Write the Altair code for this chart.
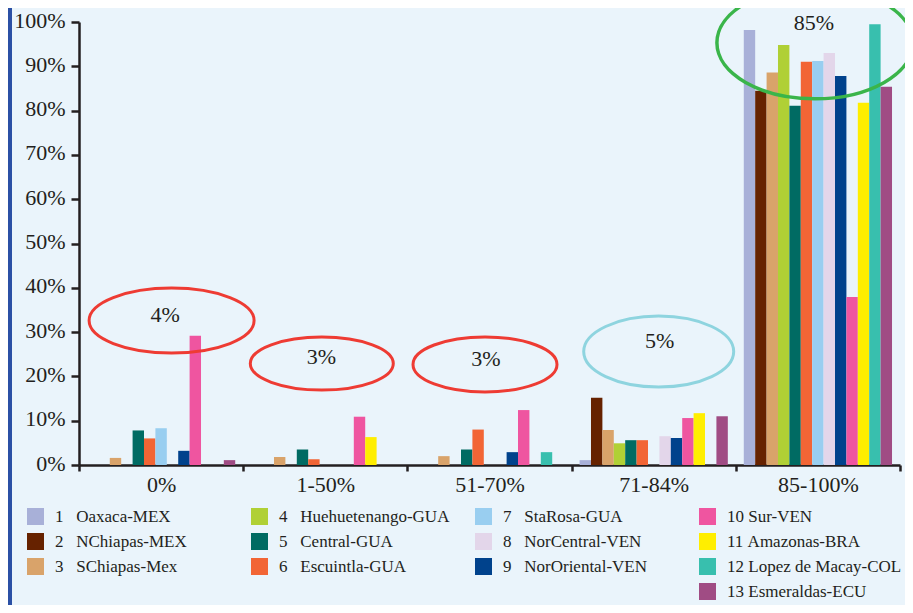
import altair as alt
import pandas as pd

categories = ["0%", "1-50%", "51-70%", "71-84%", "85-100%"]

series_names = ["Oaxaca-MEX", "NChiapas-MEX", "SChiapas-Mex", "Huehuetenango-GUA",
                "Central-GUA", "Escuintla-GUA", "StaRosa-GUA", "NorCentral-VEN",
                "NorOriental-VEN", "Sur-VEN", "Amazonas-BRA", "Lopez de Macay-COL",
                "Esmeraldas-ECU"]
series_colors = ["#A8B0D8", "#662200", "#D9A36A", "#B0D035", "#006B63", "#F26535",
                 "#99CEF0", "#E3D6EA", "#00428C", "#EF55A0", "#FFEE00", "#38BFAE",
                 "#A04C84"]

# values (%) per category, in series order 1..13
vals_0 = [0, 0, 1.6, 0, 7.8, 6.0, 8.3, 0, 3.2, 29.2, 0, 0, 1.1]
vals_1_50 = [0, 0, 1.8, 0, 3.5, 1.3, 0, 0, 0, 10.9, 6.3, 0, 0]
vals_51_70 = [0, 0, 2.0, 0, 3.5, 8.0, 0, 0, 2.9, 12.4, 0, 2.9, 0]
vals_71_84 = [1.1, 15.2, 7.9, 4.9, 5.6, 5.6, 0, 6.5, 6.1, 10.6, 11.7, 0, 11.0]
vals_85_100 = [98.2, 84.5, 88.6, 94.8, 81.1, 91.0, 91.2, 93.0, 87.8, 37.9, 81.8, 99.5, 85.4]
all_vals = [vals_0, vals_1_50, vals_51_70, vals_71_84, vals_85_100]

# annotations
ann_text = ["4%", "3%", "3%", "5%", "85%"]
ann_cat = ["0%", "1-50%", "51-70%", "71-84%", "85-100%"]
ann_center = [32.6, 22.9, 22.7, 25.6, 95.3]
ann_text_y = [33.9, 24.4, 23.9, 28.0, 99.8]
ann_colors = ["#EE3B33", "#EE3B33", "#EE3B33", "#8ED4DF", "#3AB54A"]

NB = "\u00a0"
labels = []
for i, name in enumerate(series_names):
    n = i + 1
    labels.append(f"{n}{NB*3}{name}" if n < 10 else f"{n}{NB}{name}")

rows = []
for cat, vals in zip(categories, all_vals):
    for lab, v in zip(labels, vals):
        if v > 0:
            rows.append({"category": cat, "series": lab, "value": v})
df = pd.DataFrame(rows)

# legend order: filled column by column (4 per column, blanks as fillers)
order = [0, 1, 2, None, 3, 4, 5, None, 6, 7, 8, None, 9, 10, 11, 12]
leg_domain, leg_range = [], []
b = 0
for o in order:
    if o is None:
        b += 1
        leg_domain.append(f"blank{b}")
        leg_range.append("rgba(0,0,0,0)")
    else:
        leg_domain.append(labels[o])
        leg_range.append(series_colors[o])

TXT = "#231F20"
FONT = "Liberation Serif"

bars = alt.Chart(df).mark_bar().encode(
    x=alt.X("category:N", sort=categories, title=None,
            scale=alt.Scale(paddingInner=0, paddingOuter=0),
            axis=alt.Axis(labelAngle=0, tickBand="extent", tickSize=6, labelPadding=3,
                          labelFontSize=22, domainWidth=2.5, tickWidth=2.5)),
    xOffset=alt.XOffset("series:N", sort=labels,
                        scale=alt.Scale(domain=labels, paddingInner=0, paddingOuter=0.7)),
    y=alt.Y("value:Q", title=None, scale=alt.Scale(domain=[0, 100], nice=False),
            axis=alt.Axis(values=list(range(0, 101, 10)), labelExpr="datum.value + '%'",
                          tickSize=8, labelPadding=6, labelFontSize=22, grid=False,
                          domainWidth=2.5, tickWidth=2.5, labelOffset=-2)),
    color=alt.Color("series:N", scale=alt.Scale(domain=leg_domain, range=leg_range),
                    legend=alt.Legend(title=None, orient="none", legendX=-52, legendY=486,
                                      columns=4, gridAlign="all", columnPadding=21,
                                      rowPadding=7, symbolType="square", symbolSize=289,
                                      symbolStrokeWidth=0, labelFontSize=17, labelOffset=11,
                                      labelLimit=400, labelColor=TXT, labelFont=FONT,
                                      padding=0,
                                      labelExpr="indexof(datum.label, 'blank') >= 0 ? '' : datum.label")),
)

K = 0.5523


def ellipse_path(bb):
    kb = K * bb
    return (f"M -1 0 C -1 {-kb:.4f} {-K} {-bb:.4f} 0 {-bb:.4f} "
            f"C {K} {-bb:.4f} 1 {-kb:.4f} 1 0 "
            f"C 1 {kb:.4f} {K} {bb:.4f} 0 {bb:.4f} "
            f"C {-K} {bb:.4f} -1 {kb:.4f} -1 0 Z")


# ellipse geometry (styling): half-width, half-height, horizontal shift in px
ell_rx = [82.5, 71.5, 72, 75, 98]
ell_ry = [32.5, 26.5, 27.5, 35.5, 56]
ell_dx = [10.5, -3.5, -4.5, 5, -3]
txt_dx = [4, -4, -3.5, 6, -4]
ell_sw = [3, 3, 3, 3, 3.5]

layers = [bars]
for i in range(len(ann_text)):
    d_e = pd.DataFrame({"category": [ann_cat[i]], "value": [ann_center[i]]})
    layers.append(alt.Chart(d_e).mark_point(
        shape=ellipse_path(ell_ry[i] / ell_rx[i]), size=(2 * ell_rx[i]) ** 2,
        filled=False, fill=None, stroke=ann_colors[i], strokeWidth=ell_sw[i], opacity=1,
        xOffset=ell_dx[i]).encode(
        x=alt.X("category:N", sort=categories, title=None),
        y=alt.Y("value:Q", title=None)))
    d_t = pd.DataFrame({"category": [ann_cat[i]], "value": [ann_text_y[i]],
                        "label": [ann_text[i]]})
    layers.append(alt.Chart(d_t).mark_text(
        fontSize=22, color=TXT, font=FONT, dx=txt_dx[i], baseline="middle").encode(
        x=alt.X("category:N", sort=categories, title=None),
        y=alt.Y("value:Q", title=None),
        text=alt.Text("label:N")))

border = alt.Chart(pd.DataFrame({"v": [0]})).mark_rule(color="#2B50A5", strokeWidth=4).encode(
    x=alt.value(-69), y=alt.value(-14), y2=alt.value(583))
layers.append(border)

chart = alt.layer(*layers).properties(
    width=821, height=443,
    background="#EAF4FB",
    padding={"left": 71, "top": 14, "right": 5, "bottom": 140},
    autosize=alt.AutoSizeParams(type="none"),
).configure_view(stroke=None).configure_axis(
    domainColor=TXT, tickColor=TXT, labelColor=TXT, labelFont=FONT
).configure_text(font=FONT)

chart.save("out.html", embed_options={"renderer": "svg", "actions": False})
